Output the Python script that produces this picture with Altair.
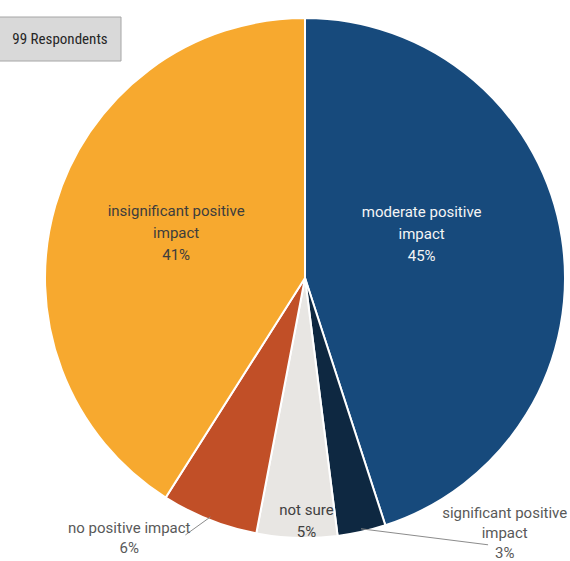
import math
import altair as alt
import pandas as pd

# ---- data ----
categories = ["moderate positive impact", "significant positive impact", "not sure",
              "no positive impact", "insignificant positive impact"]
percents = [45, 3, 5, 6, 41]
label_names = ["moderate positive\nimpact", "significant positive\nimpact", "not sure",
               "no positive impact", "insignificant positive\nimpact"]
colors = ["#174A7C", "#0E2841", "#E8E6E3", "#C14F27", "#F7A92F"]
respondents = 99

df = pd.DataFrame({
    "category": categories,
    "value": percents,
    "order": list(range(len(categories))),
    "label": [f"{n}\n{p}%" for n, p in zip(label_names, percents)],
})

CX, CY, R = 305, 278, 260
FONT = "Roboto"

base = alt.Chart(df).transform_window(
    cum="sum(value)", sort=[alt.SortField("order")], frame=[None, 0]
).transform_calculate(
    mid="datum.cum - datum.value / 2",
    ang="(datum.cum - datum.value / 2) / 100 * 2 * PI",
)

pie = alt.Chart(df).mark_arc(radius=R, stroke="white", strokeWidth=2).encode(
    theta=alt.Theta("value:Q", stack=True),
    order=alt.Order("order:Q"),
    color=alt.Color("category:N", scale=alt.Scale(domain=categories, range=colors), legend=None),
    x=alt.value(CX),
    y=alt.value(CY),
)

theta_scale = alt.Scale(domain=[0, 100], range=[0, 2 * math.pi])


def label(cat, r, dx, dy, color, lh=21):
    return base.transform_filter(alt.datum.category == cat).mark_text(
        radius=r, dx=dx, dy=dy, lineBreak="\n", font=FONT, fontSize=15,
        color=color, align="center", baseline="middle", lineHeight=lh,
    ).encode(
        theta=alt.Theta("mid:Q", scale=theta_scale, stack=None),
        text="label:N",
        x=alt.value(CX),
        y=alt.value(CY),
    )


labels = [
    label("moderate positive impact", 110, 8, -49, "#F5F5F5", 22),
    label("insignificant positive impact", 130, -4, -31, "#3D3D3D", 22),
    label("not sure", 240, 9, -8, "#404040", 22),
    label("no positive impact", 260, -80, 8, "#595959", 20),
    label("significant positive impact", 260, 143, -19, "#595959", 20),
]


def leader(cat, r, ddx, ddy):
    return base.transform_filter(alt.datum.category == cat).transform_calculate(
        lx=f"{CX} + {r} * sin(datum.ang)",
        ly=f"{CY} - {r} * cos(datum.ang)",
    ).transform_calculate(
        lx2=f"datum.lx + ({ddx})",
        ly2=f"datum.ly + ({ddy})",
    ).mark_rule(color="#8C8C8C", strokeWidth=1).encode(
        x=alt.X("lx:Q", scale=None),
        y=alt.Y("ly:Q", scale=None),
        x2="lx2:Q",
        y2="ly2:Q",
    )


leaders = [
    leader("significant positive impact", 257, 127, 16),
    leader("no positive impact", 257, -25, 18),
]

box_df = pd.DataFrame({"text": [f"{respondents} Respondents"]})
box = alt.Chart(box_df).mark_rect(fill="#D9D9D9", stroke="#A6A6A6", strokeWidth=1).encode(
    x=alt.value(-1), x2=alt.value(121), y=alt.value(17), y2=alt.value(61)
)
box_text = alt.Chart(box_df).mark_text(
    font="Liberation Sans Narrow, Roboto Condensed, Roboto", fontSize=15, color="#262626",
    align="center", baseline="middle",
).encode(text="text:N", x=alt.value(60), y=alt.value(39))

chart = alt.layer(pie, *leaders, *labels, box, box_text).resolve_scale(
    theta="independent"
).properties(
    width=570, height=561, padding=0, autosize="none"
).configure_view(stroke=None)

chart.save("out.html", embed_options={"renderer": "svg", "actions": False})
